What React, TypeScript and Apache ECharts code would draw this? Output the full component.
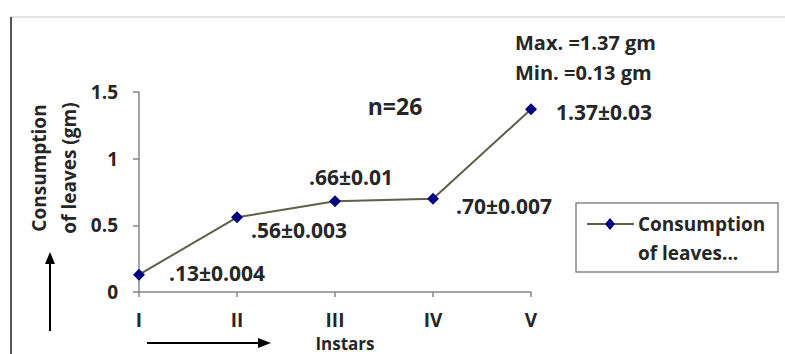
import React, { useEffect, useRef } from "react";
import * as echarts from "echarts";

const categories = ["I", "II", "III", "IV", "V"];
const consumption = [0.13, 0.56, 0.68, 0.7, 1.37];
const pointLabels = [".13±0.004", ".56±0.003", ".66±0.01", ".70±0.007", "1.37±0.03"];
const seriesName = "Consumption of leaves (gm)";
const yTicks = { min: 0, max: 1.5, interval: 0.5 };

const FONT = "'Open Sans', 'Noto Sans', sans-serif";
const TXT = "#262626";

// label placement per point (style only)
const labelPlacement: any[] = [
  { position: "right", distance: 24, offset: [0, -2] },
  { position: "right", distance: 8, offset: [0, 13] },
  { position: "top", distance: 8, offset: [16, 0] },
  { position: "right", distance: 17, offset: [0, 7] },
  { position: "right", distance: 19, offset: [0, 3] },
];

export default function App() {
  const ref = useRef<HTMLDivElement>(null);
  useEffect(() => {
    if (!ref.current) return;
    const chart = echarts.init(ref.current, null, { renderer: "svg" });
    const data = consumption.map((v, i) => ({
      value: v,
      label: { show: true, formatter: pointLabels[i], ...labelPlacement[i] },
    }));
    chart.setOption({
      animation: false,
      backgroundColor: "#fff",
      grid: { left: 139, right: 254, top: 92, bottom: 62, containLabel: false, outerBoundsMode: "none" },
      xAxis: {
        type: "category",
        data: categories,
        boundaryGap: false,
        axisLine: { lineStyle: { color: "#868686", width: 1.5 } },
        axisTick: { show: true, length: 5, lineStyle: { color: "#868686", width: 1.5 } },
        axisLabel: { color: TXT, fontFamily: FONT, fontWeight: "bold", fontSize: 19, lineHeight: 19, margin: 18 },
        name: "Instars",
        nameLocation: "middle",
        nameGap: 42,
        nameMoveOverlap: false,
        nameTextStyle: {
          color: TXT,
          fontFamily: FONT,
          fontWeight: "bold",
          fontSize: 17,
          lineHeight: 18,
          padding: [0, 0, 0, 20],
        },
      },
      yAxis: {
        type: "value",
        min: yTicks.min,
        max: yTicks.max,
        interval: yTicks.interval,
        splitLine: { show: false },
        axisLine: { show: true, lineStyle: { color: "#868686", width: 1.5 } },
        axisTick: { show: true, length: 6, lineStyle: { color: "#868686", width: 1.5 } },
        axisLabel: { color: TXT, fontFamily: FONT, fontWeight: "bold", fontSize: 19, margin: 21 },
        name: "Consumption\nof leaves (gm)",
        nameLocation: "middle",
        nameRotate: 90,
        nameGap: 55,
        nameMoveOverlap: false,
        nameTextStyle: {
          color: TXT,
          fontFamily: FONT,
          fontWeight: "bold",
          fontSize: 19,
          lineHeight: 30,
          padding: [0, 0, 0, 48],
        },
      },
      series: [
        {
          name: seriesName,
          type: "line",
          data,
          symbol: "diamond",
          symbolSize: 12,
          itemStyle: { color: "#000080" },
          lineStyle: { color: "#5f5f4a", width: 2 },
          label: { color: TXT, fontFamily: FONT, fontWeight: "bold", fontSize: 21 },
        },
      ],
      graphic: [
        { type: "line", shape: { x1: 10, y1: 17, x2: 785, y2: 17 }, style: { stroke: "#d9d9d9", lineWidth: 1.5 } },
        { type: "line", shape: { x1: 11, y1: 17, x2: 11, y2: 354 }, style: { stroke: "#555", lineWidth: 2 } },
        // y arrow
        { type: "line", shape: { x1: 50, y1: 331, x2: 50, y2: 262 }, style: { stroke: "#000", lineWidth: 2 } },
        { type: "polygon", shape: { points: [[50, 252], [45, 264], [55, 264]] }, style: { fill: "#000" } },
        // x arrow
        { type: "line", shape: { x1: 147, y1: 343, x2: 260, y2: 343 }, style: { stroke: "#000", lineWidth: 2 } },
        { type: "polygon", shape: { points: [[271, 343], [258, 338], [258, 348]] }, style: { fill: "#000" } },
        // annotations
        { type: "text", x: 395, y: 106, style: { text: "n=26", fill: TXT, font: `bold 23px ${FONT}`, align: "center", verticalAlign: "middle" } },
        { type: "text", x: 515, y: 42, style: { text: "Max. =1.37 gm", fill: TXT, font: `bold 20px ${FONT}`, align: "left", verticalAlign: "middle" } },
        { type: "text", x: 515, y: 72, style: { text: "Min. =0.13 gm", fill: TXT, font: `bold 20px ${FONT}`, align: "left", verticalAlign: "middle" } },
        // legend
        { type: "rect", shape: { x: 576, y: 203, width: 202, height: 69 }, style: { fill: "#fff", stroke: "#888", lineWidth: 1.5 } },
        { type: "line", shape: { x1: 587, y1: 224, x2: 634, y2: 224 }, style: { stroke: "#5f5f4a", lineWidth: 2 } },
        { type: "polygon", shape: { points: [[610, 218], [615, 224], [610, 230], [605, 224]] }, style: { fill: "#000080" } },
        { type: "text", x: 638, y: 224, style: { text: "Consumption", fill: TXT, font: `bold 19px ${FONT}`, align: "left", verticalAlign: "middle" } },
        { type: "text", x: 638, y: 253, style: { text: "of leaves...", fill: TXT, font: `bold 19px ${FONT}`, align: "left", verticalAlign: "middle" } },
      ],
    });
    return () => chart.dispose();
  }, []);
  return (
    <div
      ref={ref}
      style={{ position: "fixed", left: 0, top: 0, width: 785, height: 354, background: "#fff" }}
    />
  );
}
